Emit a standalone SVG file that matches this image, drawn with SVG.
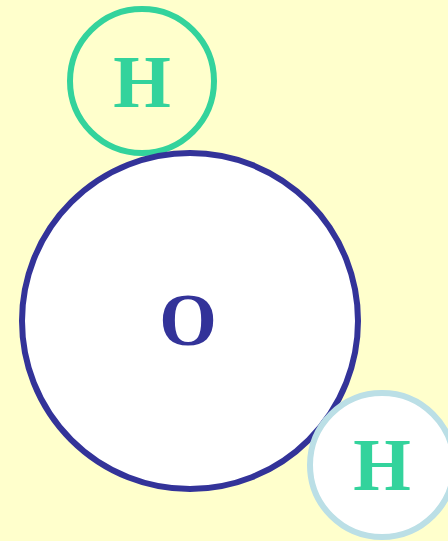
<svg xmlns="http://www.w3.org/2000/svg" width="448" height="541" viewBox="0 0 448 541">
<style>
.lbl{font-family:"Liberation Serif","Times New Roman",serif;font-weight:bold;font-size:74px;text-anchor:middle}
.h{fill:#33D39C}
.o{fill:#333399}
</style>
<rect x="0" y="0" width="448" height="541" fill="#FFFFCC"/>
<g id="H1">
<circle cx="142" cy="81" r="72" fill="none" stroke="#33D39C" stroke-width="6"/>
<text class="lbl h" x="142" y="107">H</text>
</g>
<g id="O">
<circle cx="190" cy="321" r="168" fill="#FFFFFF" stroke="#333399" stroke-width="6"/>
<text class="lbl o" x="188" y="345">O</text>
</g>
<g id="H2">
<circle cx="382" cy="465" r="72" fill="#FFFFFF" stroke="#BBDFE6" stroke-width="6"/>
<text class="lbl h" x="382" y="490">H</text>
</g>
<g id="connectors"></g>
</svg>
